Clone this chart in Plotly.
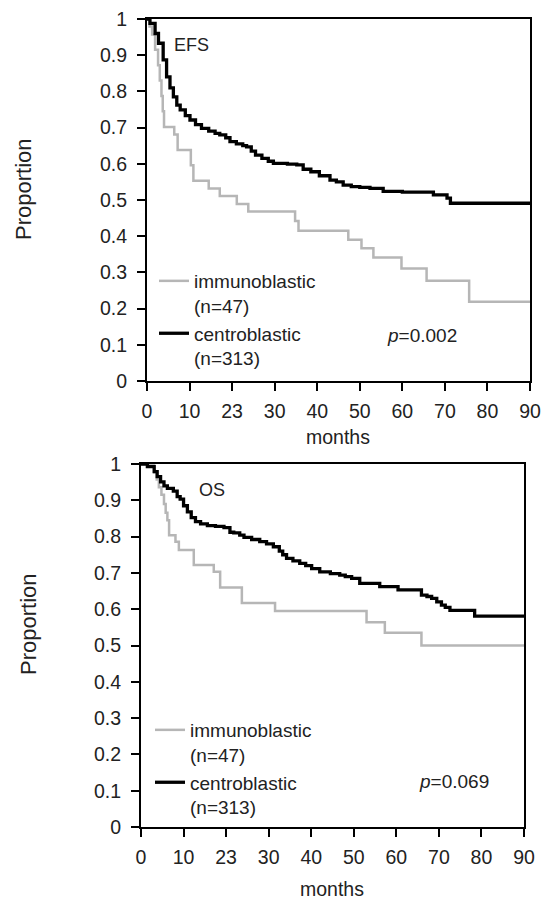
import plotly.graph_objects as go

# ---------------- data ----------------
month_ticks = [0, 10, 20, 30, 40, 50, 60, 70, 80, 90]
month_tick_labels = ["0", "10", "23", "30", "40", "50", "60", "70", "80", "90"]
prop_ticks = [0, 0.1, 0.2, 0.3, 0.4, 0.5, 0.6, 0.7, 0.8, 0.9, 1.0]
prop_tick_labels = ["0", "0.1", "0.2", "0.3", "0.4", "0.5", "0.6", "0.7", "0.8", "0.9", "1"]

# EFS - centroblastic (n=313)
efs_cb_t = [0, 0.7, 1.9, 2.7, 3.8, 4.6, 5.4, 6.2, 7.0, 7.8, 9.0, 10.1, 11.4, 12.8, 14.5, 16.0,
            17.1, 18.5, 19.5, 21.0, 22.5, 23.4, 24.5, 25.5, 27.0, 28.5, 29.7, 33.0, 35.2, 36.7,
            38.5, 40.5, 43.0, 44.5, 46.1, 48.0, 50.0, 52.4, 55.5, 60.0, 67.3, 70.5, 71.3, 90]
efs_cb_p = [1.0, 0.988, 0.96, 0.933, 0.887, 0.84, 0.81, 0.785, 0.762, 0.749, 0.733, 0.721, 0.708,
            0.698, 0.69, 0.684, 0.68, 0.672, 0.661, 0.655, 0.65, 0.647, 0.635, 0.624, 0.615, 0.607,
            0.601, 0.599, 0.597, 0.585, 0.578, 0.567, 0.555, 0.55, 0.541, 0.537, 0.535, 0.532,
            0.524, 0.522, 0.514, 0.505, 0.491, 0.491]

# EFS - immunoblastic (n=47)
efs_ib_t = [0, 0.6, 1.2, 1.9, 2.6, 3.0, 3.4, 3.7, 4.0, 6.4, 7.2, 10.3, 10.9, 14.5, 17.1, 21.1,
            23.8, 34.8, 35.6, 47.3, 50.4, 53.2, 59.8, 65.7, 75.7, 90]
efs_ib_p = [1.0, 0.979, 0.957, 0.915, 0.872, 0.83, 0.787, 0.745, 0.702, 0.681, 0.638, 0.596,
            0.553, 0.532, 0.511, 0.489, 0.468, 0.442, 0.415, 0.39, 0.367, 0.341, 0.311, 0.277,
            0.219, 0.219]

# OS - centroblastic (n=313)
os_cb_t = [0, 1.5, 3.1, 3.8, 4.6, 5.4, 6.2, 7.6, 8.5, 9.2, 10.0, 10.9, 11.8, 12.8, 14.0, 15.6,
           17.5, 19.5, 20.9, 21.8, 23.2, 24.2, 26.0, 27.9, 29.5, 31.1, 32.5, 33.3, 34.2, 35.7,
           37.3, 38.7, 40.1, 42.0, 44.5, 46.7, 48.0, 49.5, 51.4, 56.1, 60.4, 65.9, 67.2, 68.3,
           69.5, 70.6, 71.5, 72.6, 78.4, 90]
os_cb_p = [1.0, 0.993, 0.979, 0.965, 0.951, 0.94, 0.933, 0.925, 0.91, 0.903, 0.885, 0.868, 0.852,
           0.841, 0.835, 0.83, 0.828, 0.825, 0.812, 0.81, 0.804, 0.798, 0.792, 0.786, 0.78, 0.772,
           0.76, 0.75, 0.74, 0.733, 0.726, 0.72, 0.712, 0.703, 0.698, 0.694, 0.69, 0.685, 0.671,
           0.662, 0.653, 0.639, 0.635, 0.63, 0.62, 0.611, 0.605, 0.597, 0.581, 0.581]

# OS - immunoblastic (n=47)
os_ib_t = [0, 3.1, 3.7, 4.2, 4.8, 5.4, 5.8, 6.2, 6.6, 8.1, 8.9, 12.4, 17.1, 18.6, 23.7, 31.5,
           53.0, 57.3, 65.9, 90]
os_ib_p = [1.0, 0.977, 0.957, 0.936, 0.915, 0.89, 0.866, 0.845, 0.804, 0.786, 0.763, 0.722,
           0.703, 0.66, 0.617, 0.595, 0.564, 0.535, 0.5, 0.5]

names = ["immunoblastic<br>(n=47)", "centroblastic<br>(n=313)"]
panel_labels = ["EFS", "OS"]
p_values = ["<i>p</i>=0.002", "<i>p</i>=0.069"]

# ---------------- styling ----------------
FONT = "Liberation Sans, Arial, Helvetica, sans-serif"
TXT = "#222"
GRAY = "#b6b6b6"
W, H = 544, 900

fig = go.Figure()

fig.add_trace(go.Scatter(x=efs_ib_t, y=efs_ib_p, mode="lines", line_shape="hv",
                         line=dict(color=GRAY, width=2.5), name=names[0],
                         xaxis="x", yaxis="y", legend="legend"))
fig.add_trace(go.Scatter(x=efs_cb_t, y=efs_cb_p, mode="lines", line_shape="hv",
                         line=dict(color="black", width=3.3), name=names[1],
                         xaxis="x", yaxis="y", legend="legend"))
fig.add_trace(go.Scatter(x=os_ib_t, y=os_ib_p, mode="lines", line_shape="hv",
                         line=dict(color=GRAY, width=2.5), name=names[0],
                         xaxis="x2", yaxis="y2", legend="legend2"))
fig.add_trace(go.Scatter(x=os_cb_t, y=os_cb_p, mode="lines", line_shape="hv",
                         line=dict(color="black", width=3.3), name=names[1],
                         xaxis="x2", yaxis="y2", legend="legend2"))


def px_x(v):
    return v / W


def px_y(v):
    return 1 - v / H


axis_common = dict(showline=True, linecolor="black", linewidth=2, mirror=True,
                   ticks="outside", ticklen=8, tickwidth=2, tickcolor="black",
                   showgrid=False, zeroline=False, fixedrange=True, automargin=False,
                   tickfont=dict(family=FONT, size=19.5, color=TXT))

xa = dict(axis_common, range=[0, 90], tickmode="array", tickvals=month_ticks,
          ticktext=month_tick_labels, ticklabelstandoff=4)
ya = dict(axis_common, range=[0, 1], tickmode="array", tickvals=prop_ticks,
          ticktext=prop_tick_labels, ticklabelstandoff=6)

leg_common = dict(xanchor="left", yanchor="top", bgcolor="rgba(0,0,0,0)",
                  font=dict(family=FONT, size=19, color=TXT),
                  itemwidth=30, valign="top", tracegroupgap=0)

fig.update_layout(
    width=W, height=H,
    margin=dict(l=0, r=0, t=0, b=0, pad=0, autoexpand=False),
    paper_bgcolor="white", plot_bgcolor="white",
    font=dict(family=FONT, size=19, color=TXT),
    xaxis=dict(xa, domain=[px_x(147), px_x(530)], anchor="y"),
    yaxis=dict(ya, domain=[px_y(381), px_y(19)], anchor="x"),
    xaxis2=dict(xa, domain=[px_x(141), px_x(524)], anchor="y2"),
    yaxis2=dict(ya, domain=[px_y(827), px_y(464)], anchor="x2"),
    legend=dict(leg_common, x=px_x(154), y=px_y(262)),
    legend2=dict(leg_common, x=px_x(150), y=px_y(711)),
    showlegend=True,
)

ann_font = dict(family=FONT, size=19, color=TXT)
annotations = [
    dict(text=panel_labels[0], x=px_x(191), y=px_y(45), font=dict(family=FONT, size=18, color=TXT)),
    dict(text=panel_labels[1], x=px_x(212), y=px_y(490), font=dict(family=FONT, size=18, color=TXT)),
    dict(text=p_values[0], x=px_x(422), y=px_y(335), font=ann_font),
    dict(text=p_values[1], x=px_x(454), y=px_y(781), font=ann_font),
    dict(text="months", x=px_x(338), y=px_y(437), font=dict(family=FONT, size=19.5, color=TXT)),
    dict(text="months", x=px_x(332), y=px_y(889), font=dict(family=FONT, size=19.5, color=TXT)),
    dict(text="Proportion", x=px_x(24), y=px_y(189), textangle=-90,
         font=dict(family=FONT, size=22, color=TXT)),
    dict(text="Proportion", x=px_x(28), y=px_y(624), textangle=-90,
         font=dict(family=FONT, size=22, color=TXT)),
]
for a in annotations:
    a.update(xref="paper", yref="paper", showarrow=False, xanchor="center", yanchor="middle")
fig.update_layout(annotations=annotations)

fig.write_html("out.html", config={"displayModeBar": False},
               post_script="document.body.style.margin='0';")
